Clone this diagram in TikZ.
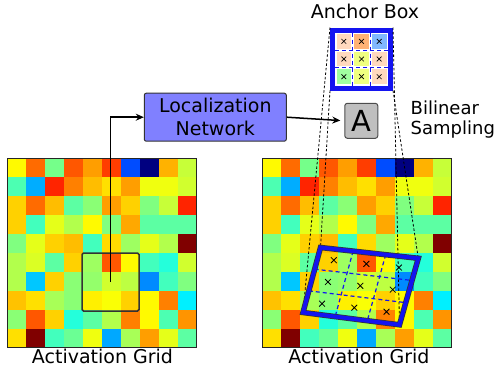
\documentclass[tikz,border=0pt]{standalone}
\usepackage{fontspec}
\setmainfont{DejaVu Sans}
\usetikzlibrary{calc,shapes.misc,arrows.meta}

% jet colour of a value in [0,1], stored as cellcol
\newcommand{\jetfill}[1]{%
	\pgfmathsetmacro{\jr}{max(0,min(1,1.5-abs(4*#1-3)))}%
	\pgfmathsetmacro{\jg}{max(0,min(1,1.5-abs(4*#1-2)))}%
	\pgfmathsetmacro{\jb}{max(0,min(1,1.5-abs(4*#1-1)))}%
	\definecolor{cellcol}{rgb}{\jr,\jg,\jb}}

\definecolor{qblue}{HTML}{1414F0}
\definecolor{abpeach}{HTML}{FFD9BE}
\definecolor{aborange}{HTML}{FFB274}
\definecolor{abblue}{HTML}{80B8FF}
\definecolor{abyellow}{HTML}{F0FF80}
\definecolor{abgreen}{HTML}{A0FFA0}

\begin{document}
\begin{tikzpicture}[x=1pt,y=-1pt]
	% size of each cell
	\def\cell{18.9}
	\def\gridtop{158.5}
	% node style definition
	\tikzstyle{gridframe} = [draw=black!85, line width=1.3pt];
	\tikzstyle{roibox} = [draw=black!80, line width=1.5pt, rounded corners=1.5pt, minimum width=57pt, minimum height=58pt, inner sep=0pt];
	\tikzstyle{locnet} = [draw=black!80, fill=blue!50, line width=1pt, rounded corners=2pt, minimum width=142pt, minimum height=48pt, inner sep=0pt, align=center, font=\fontsize{19}{22.6}\selectfont];
	\tikzstyle{sampler} = [draw=black!70, fill=black!25, line width=1pt, rounded corners=2.5pt, minimum width=33pt, minimum height=35pt, inner sep=0pt, font=\fontsize{29}{30}\selectfont];
	\tikzstyle{anchorbox} = [draw=qblue, fill=white, line width=5pt, minimum size=58pt, inner sep=0pt];
	\tikzstyle{caption} = [anchor=base, inner sep=0pt, font=\fontsize{19}{20}\selectfont];
	\tikzstyle{link} = [line width=1.5pt, -{Stealth[length=8pt,width=7pt]}];
	\tikzstyle{proj} = [black, line width=0.8pt, dash pattern=on 2.5pt off 2pt];
	\tikzstyle{cellsplit} = [qblue, line width=1.2pt, dash pattern=on 4pt off 3pt];
	\tikzstyle{xpt} = [cross out, draw=black, line width=0.8pt, minimum size=5pt, inner sep=0pt];
	\tikzstyle{xsmall} = [cross out, draw=black, line width=0.7pt, minimum size=4pt, inner sep=0pt];
	% activation values, row by row
	\def\actvals{{0.63,0.77,0.49,0.79,0.72,0.815,0.20,0.0,0.70,0.57},
		{0.45,0.295,0.84,0.75,0.69,0.655,0.72,0.61,0.61,0.58},
		{0.67,0.77,0.69,0.465,0.51,0.72,0.67,0.50,0.57,0.84},
		{0.67,0.44,0.60,0.55,0.63,0.50,0.71,0.465,0.465,0.465},
		{0.50,0.60,0.67,0.69,0.44,0.66,0.53,0.60,0.55,1.0},
		{0.55,0.59,0.465,0.67,0.53,0.79,0.63,0.44,0.41,0.58},
		{0.55,0.32,0.67,0.51,0.52,0.58,0.56,0.26,0.44,0.50},
		{0.685,0.655,0.54,0.51,0.64,0.62,0.67,0.63,0.75,0.36},
		{0.51,0.79,0.67,0.41,0.465,0.55,0.75,0.63,0.45,0.73},
		{0.655,1.0,0.44,0.48,0.61,0.29,0.54,0.72,0.60,0.465}}

	\useasboundingbox (0,0) rectangle (498,370);

	% the two activation grids
	\foreach \gx in {7.5,262.5} {
		\foreach \row [count=\j from 0] in \actvals {
			\foreach \v [count=\i from 0] in \row {
				\jetfill{\v}
				\fill[cellcol] (\gx+\i*\cell,\gridtop+\j*\cell) rectangle ++(\cell,\cell);
			}
		}
		\draw[gridframe] (\gx,\gridtop) rectangle ++(10*\cell,10*\cell);
	}

	\node[roibox] (roi) at (110.5,282) {};
	\node[locnet] (locnet) at (215.3,117.2) {Localization\\Network};
	\node[sampler] (sampler) at (361.3,120.8) {A};
	\node[caption, anchor=west, align=left, font=\fontsize{18}{20}\selectfont] (bilinear) at (410.5,119.4) {Bilinear\\Sampling};

	\draw[link] (roi.center) |- (locnet.west);
	\draw[link, shorten >=4pt] (locnet.east) -- (sampler.west);

	% anchor box with its sampled cells
	\node[anchorbox] (anchor) at (361.5,59) {};
	\foreach \c [count=\k from 0] in {abpeach,aborange,abblue,abpeach,abyellow,abpeach,abgreen,abyellow,abpeach} {
		\pgfmathsetmacro{\ci}{mod(\k,3)}
		\pgfmathsetmacro{\cj}{int(\k/3)}
		\fill[\c] ($(anchor.center)+(-25+\ci*17.67,-25+\cj*17.67)$) rectangle ++(14.67,14.67);
		\node[xsmall] at ($(anchor.center)+(-17.67+\ci*17.67,-17.67+\cj*17.67)$) {};
	}
	\foreach \t in {-8.83,8.83} {
		\draw[cellsplit, line width=1pt] ($(anchor.center)+(\t,-26.5)$) -- ++(0,53);
		\draw[cellsplit, line width=1pt] ($(anchor.center)+(-26.5,\t)$) -- ++(53,0);
	}
	\node[caption] (anchorlabel) at (365,18.3) {Anchor Box};

	% transformed box on the right grid
	\coordinate (qa) at (320.5,247.5);
	\coordinate (qb) at (418.3,258.3);
	\coordinate (qc) at (399.5,324.8);
	\coordinate (qd) at (303,312.5);

	\draw[proj] (anchor.north west) -- (qd);
	\draw[proj] (anchor.south west) -- (qa);
	\draw[proj] (anchor.north east) -- (qc);
	\draw[proj] (anchor.south east) -- (qb);

	\foreach \t in {0.3333,0.6667} {
		\draw[cellsplit] ($(qa)!\t!(qb)$) -- ($(qd)!\t!(qc)$);
		\draw[cellsplit] ($(qa)!\t!(qd)$) -- ($(qb)!\t!(qc)$);
	}
	\foreach \u in {0.1667,0.5,0.8333}
		\foreach \w in {0.1667,0.5,0.8333}
			\node[xpt] at ($($(qa)!\u!(qb)$)!\w!($(qd)!\u!(qc)$)$) {};
	\draw[line width=5.5pt, black!80] (qa) -- (qb) -- (qc) -- (qd) -- cycle;
	\draw[line width=4pt, qblue] (qa) -- (qb) -- (qc) -- (qd) -- cycle;

	\node[caption] (leftlabel) at (102.5,363) {Activation Grid};
	\node[caption] (rightlabel) at (359,363) {Activation Grid};
\end{tikzpicture}
\end{document}
